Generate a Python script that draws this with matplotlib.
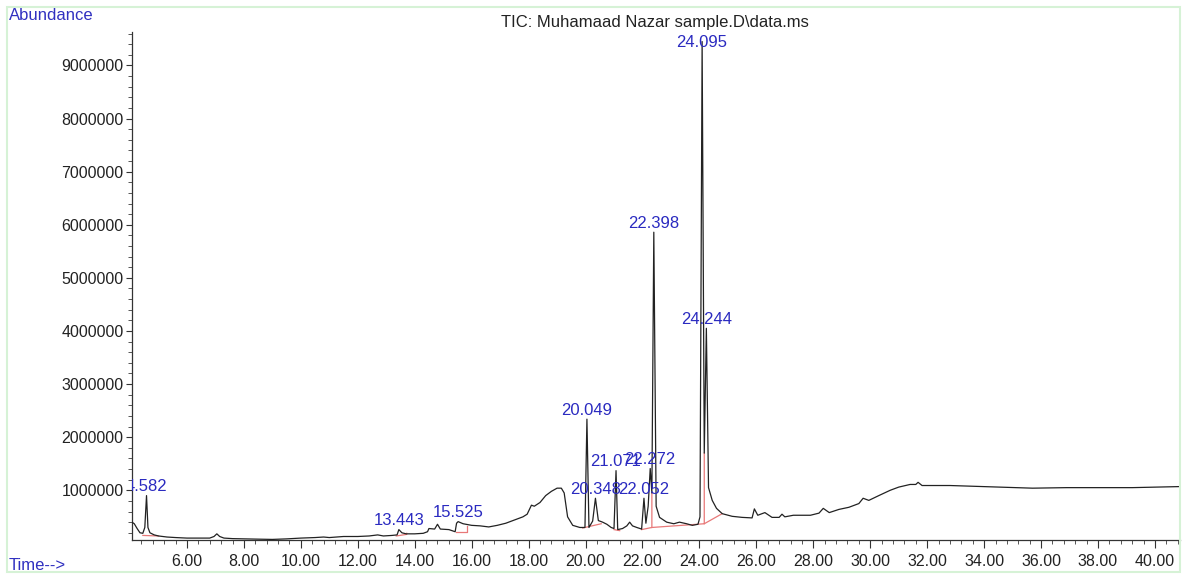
import numpy as np
import matplotlib
matplotlib.use("Agg")
import matplotlib.pyplot as plt
from matplotlib.patches import Rectangle
from matplotlib.ticker import MultipleLocator, FuncFormatter

plt.rcParams["font.family"] = ["Liberation Sans", "DejaVu Sans"]

# TIC trace: retention time (min), abundance (millions)
rt_min = [
    4.07, 4.15, 4.25, 4.35, 4.45, 4.52, 4.58, 4.63, 4.70, 4.85, 5.0, 5.3, 5.6,
    6.0, 6.4, 6.8, 6.95, 7.05, 7.15, 7.3, 7.6, 8.0, 8.5, 9.0, 9.5, 10.0, 10.5,
    10.8, 11.0, 11.5, 12.0, 12.4, 12.7, 12.9, 13.2, 13.38, 13.443, 13.55, 13.7,
    14.0, 14.3, 14.45, 14.5, 14.7, 14.8, 14.9, 15.2, 15.42, 15.47, 15.525,
    15.7, 16.0, 16.3, 16.6, 16.9, 17.2, 17.5, 17.8, 17.95, 18.1, 18.2, 18.4,
    18.6, 18.8, 19.0, 19.15, 19.25, 19.37, 19.55, 19.8, 19.98, 20.049, 20.12,
    20.25, 20.348, 20.45, 20.6, 20.75, 20.9, 21.0, 21.071, 21.13, 21.3, 21.45,
    21.55, 21.65, 21.8, 21.97, 22.052, 22.12, 22.2, 22.272, 22.33, 22.398,
    22.48, 22.6, 22.85, 23.1, 23.3, 23.55, 23.75, 23.95, 24.02, 24.095, 24.17,
    24.244, 24.32, 24.45, 24.6, 24.8, 25.15, 25.5, 25.85, 25.93, 26.05, 26.3,
    26.55, 26.8, 26.9, 27.0, 27.3, 27.9, 28.2, 28.35, 28.56, 28.9, 29.25, 29.6,
    29.75, 29.95, 30.3, 30.7, 31.0, 31.4, 31.6, 31.68, 31.82, 32.8, 34.5, 35.7,
    36.9, 39.2, 40.88,
]
abund_m = [
    0.40, 0.37, 0.28, 0.20, 0.19, 0.30, 0.90, 0.30, 0.20, 0.16, 0.14, 0.12, 0.11,
    0.10, 0.10, 0.10, 0.13, 0.18, 0.13, 0.10, 0.09, 0.085, 0.08, 0.075, 0.085,
    0.10, 0.11, 0.12, 0.11, 0.13, 0.13, 0.14, 0.16, 0.14, 0.15, 0.16, 0.26,
    0.20, 0.18, 0.18, 0.19, 0.22, 0.28, 0.27, 0.36, 0.27, 0.26, 0.22, 0.38,
    0.41, 0.37, 0.34, 0.33, 0.31, 0.34, 0.38, 0.44, 0.50, 0.55, 0.72, 0.70,
    0.77, 0.90, 0.98, 1.04, 1.04, 0.95, 0.50, 0.34, 0.30, 0.30, 2.34, 0.30,
    0.42, 0.85, 0.43, 0.40, 0.36, 0.30, 0.28, 1.37, 0.26, 0.28, 0.33, 0.40,
    0.33, 0.30, 0.27, 0.85, 0.38, 0.70, 1.41, 0.95, 5.86, 0.70, 0.49, 0.40,
    0.37, 0.40, 0.37, 0.34, 0.36, 0.50, 9.45, 1.70, 4.05, 1.05, 0.81, 0.66,
    0.56, 0.51, 0.49, 0.48, 0.65, 0.53, 0.58, 0.49, 0.49, 0.55, 0.50, 0.53,
    0.53, 0.57, 0.66, 0.58, 0.64, 0.68, 0.75, 0.85, 0.81, 0.90, 1.00, 1.06,
    1.11, 1.11, 1.15, 1.09, 1.09, 1.06, 1.04, 1.05, 1.05, 1.07,
]

# labelled peaks
peak_labels = ["4.582", "13.443", "15.525", "20.049", "20.348", "21.071",
               "22.052", "22.272", "22.398", "24.095", "24.244"]

# red integration baselines (time, abundance in millions)
base_t = [
    [4.45, 5.0],
    [13.35, 13.72, 13.72],
    [15.45, 15.85, 15.85],
    [19.9, 20.55],
    [21.0, 21.2],
    [21.97, 22.33, 22.33],
    [22.33, 24.17, 24.17],
    [24.17, 24.8],
]
base_a = [
    [0.15, 0.14],
    [0.14, 0.17, 0.19],
    [0.22, 0.22, 0.33],
    [0.29, 0.37],
    [0.26, 0.24],
    [0.26, 0.30, 0.95],
    [0.30, 0.37, 1.70],
    [0.37, 0.56],
]

W, H = 1182, 574
fig = plt.figure(figsize=(W / 100, H / 100), dpi=100)
ax = fig.add_axes([132 / W, 34 / H, 1048 / W, 508 / H])

t = np.array(rt_min)
a = np.array(abund_m) * 1e6

for bt, ba in zip(base_t, base_a):
    ax.plot(bt, np.array(ba) * 1e6, color="#e87878", lw=0.9, zorder=2)
ax.plot(t, a, color="#222222", lw=0.9, zorder=3)

blue = "#2a2ac0"
for lab in peak_labels:
    rt = float(lab)
    near = np.abs(t - rt) < 0.05
    top = a[near].max()
    if lab == "24.095":
        off, va = -1, "center"
    else:
        off, va = 1, "bottom"
    ax.annotate(lab, (rt, top), xytext=(0, off), textcoords="offset points",
                ha="center", va=va, color=blue, fontsize=12, clip_on=True,
                annotation_clip=False, zorder=4)

ax.set_xlim(4.07, 40.88)
ax.set_ylim(0.064e6, 9.63e6)

ax.xaxis.set_major_locator(MultipleLocator(2))
ax.xaxis.set_minor_locator(MultipleLocator(0.4))
ax.xaxis.set_major_formatter(FuncFormatter(lambda v, p: f"{v:.2f}"))
ax.yaxis.set_major_locator(MultipleLocator(1e6))
ax.yaxis.set_minor_locator(MultipleLocator(2e5))
ax.yaxis.set_major_formatter(FuncFormatter(lambda v, p: f"{int(round(v))}"))

ax.tick_params(axis="both", which="major", labelsize=11.5, colors="#333333",
               labelcolor="#222222", width=0.8)
ax.tick_params(axis="x", which="major", length=6, pad=4)
ax.tick_params(axis="y", which="major", length=4, pad=2)
ax.tick_params(axis="both", which="minor", length=3, width=0.7, colors="#555555")

for s in ["top", "right"]:
    ax.spines[s].set_visible(False)
for s in ["left", "bottom"]:
    ax.spines[s].set_color("#333333")
    ax.spines[s].set_linewidth(0.9)

fig.text(655 / W, 1 - 22 / H, "TIC: Muhamaad Nazar sample.D\\data.ms",
         ha="center", va="center", fontsize=12, color="#222222")
fig.text(9 / W, 1 - 16 / H, "Abundance", ha="left", va="center",
         fontsize=12, color="#3030c0")
fig.text(9 / W, 1 - 566 / H, "Time-->", ha="left", va="center",
         fontsize=12, color="#3030c0")

fig.patches.append(Rectangle((7 / W, 2 / H), 1173 / W, 565 / H,
                             transform=fig.transFigure, fill=False,
                             edgecolor="#d6f2d6", lw=1.5))

fig.savefig("out.png", dpi=100)
